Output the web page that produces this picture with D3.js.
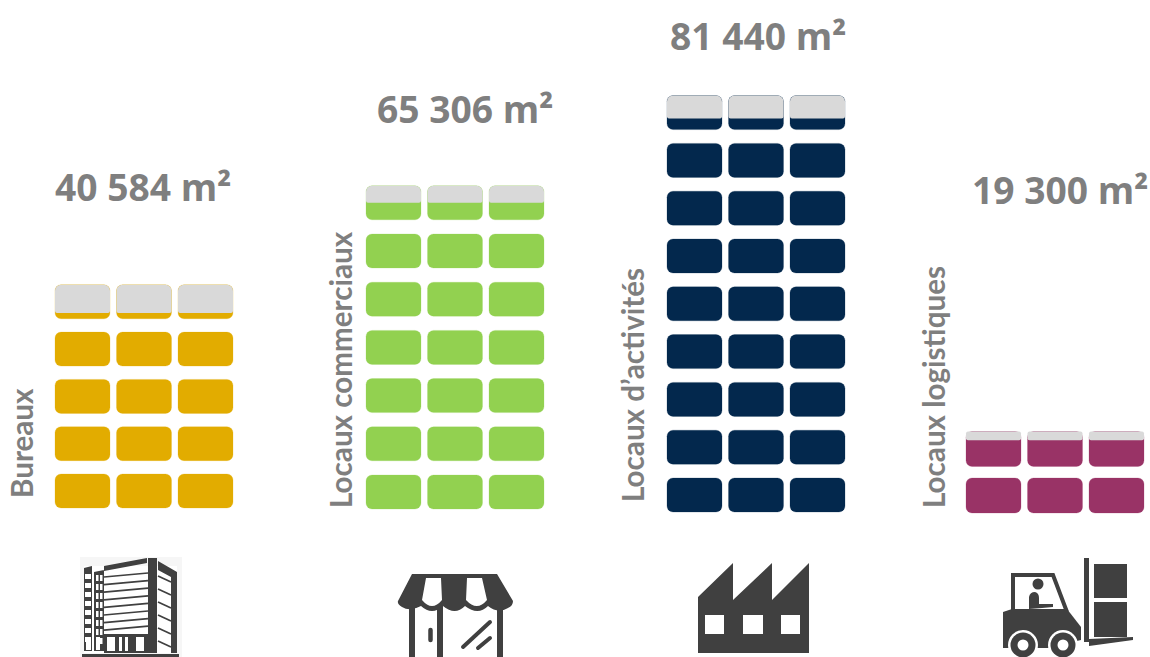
<!DOCTYPE html>
<html lang="fr">
<head>
<meta charset="utf-8">
<title>Surfaces par type de locaux</title>
<script src="https://cdn.jsdelivr.net/npm/d3@7"></script>
<style>
  html, body { margin: 0; padding: 0; background: #fff; }
  svg { display: block; }
  .value { font-family: "Open Sans", sans-serif; font-weight: 700; font-size: 37.2px; fill: #7f7f7f; }
  .name { font-family: "Lato", sans-serif; font-weight: 700; font-size: 29.6px; fill: #7f7f7f; }
</style>
</head>
<body>
<svg id="chart" width="1150" height="657" viewBox="0 0 1150 657"></svg>
<script>
// Surface per property type, one stack of block rows per type
const categories = ["Bureaux", "Locaux commerciaux", "Locaux d’activités", "Locaux logistiques"];
const surfaces = [40584, 65306, 81440, 19300];
const valueLabels = ["40 584 m²", "65 306 m²", "81 440 m²", "19 300 m²"];
const topRowShare = [0.17, 0.5, 0.33, 0.75];
const colours = ["#e2ac00", "#92d150", "#03284d", "#993366"];

const m2PerRow = 10000;
const blocksPerRow = 3;

// Stack placement on the page
const stackLeft = [55, 366, 667, 966];
const stackFloor = [508, 509, 512, 513];
const rowPitch = [47.3, 48.2, 47.8, 46.5];
const labelX = [55, 377, 670, 972];
const labelBaseline = [201, 123, 50, 204];
const nameX = [33, 352, 644, 945];
const nameFoot = [498, 508, 502, 508];

const blockW = 55, blockH = [34, 34, 34, 35], colPitch = 61.5, corner = 6;
const grey = "#d9d9d9", iconInk = "#3f3f3f";

const svg = d3.select("#chart");
const defs = svg.append("defs");
defs.append("filter").attr("id", "soft").append("feGaussianBlur").attr("stdDeviation", 0.45);

// Rounded rectangle whose top and bottom corner radii can differ
function coverPath(x, y, w, h, rt, rb) {
  const p = d3.path();
  p.moveTo(x + rt, y);
  p.lineTo(x + w - rt, y);
  p.arcTo(x + w, y, x + w, y + rt, rt);
  p.lineTo(x + w, y + h - rb);
  p.arcTo(x + w, y + h, x + w - rb, y + h, rb);
  p.lineTo(x + rb, y + h);
  p.arcTo(x, y + h, x, y + h - rb, rb);
  p.lineTo(x, y + rt);
  p.arcTo(x, y, x + rt, y, rt);
  p.closePath();
  return p.toString();
}

categories.forEach((name, i) => {
  const rows = Math.ceil(surfaces[i] / m2PerRow);
  const h = blockH[i];
  const x = d3.scaleLinear().domain([0, 1]).range([stackLeft[i], stackLeft[i] + colPitch]);
  const y = d3.scaleLinear().domain([0, 1]).range([stackFloor[i], stackFloor[i] - rowPitch[i]]);
  const cells = d3.range(rows).flatMap(r => d3.range(blocksPerRow).map(c => ({ r, c })));
  const g = svg.append("g").attr("class", "stack");

  g.selectAll("rect.block").data(cells).join("rect")
    .attr("class", "block")
    .attr("x", d => x(d.c))
    .attr("y", d => y(d.r) - h)
    .attr("width", blockW)
    .attr("height", h)
    .attr("rx", corner)
    .attr("fill", colours[i])
    .attr("stroke", colours[i])
    .attr("stroke-opacity", 0.22)
    .attr("stroke-width", 1);

  // Grey cover hides the unused share of the top row
  const hidden = (1 - topRowShare[i]) * h;
  g.selectAll("path.cover").data(d3.range(blocksPerRow)).join("path")
    .attr("class", "cover")
    .attr("d", c => coverPath(x(c), y(rows - 1) - h, blockW, hidden, i === 3 ? 2 : corner, 2))
    .attr("fill", grey);

  svg.append("text").attr("class", "value")
    .attr("x", labelX[i]).attr("y", labelBaseline[i])
    .text(valueLabels[i]);

  svg.append("text").attr("class", "name")
    .attr("transform", `translate(${nameX[i]},${nameFoot[i]}) rotate(-90)`)
    .text(name);
});

// Pictograms along the bottom edge
const icons = svg.append("g").attr("filter", "url(#soft)");

function drawOffice(g) {
  g.append("rect").attr("x", 80).attr("y", 557).attr("width", 102).attr("height", 100).attr("fill", "#f6f6f6");
  g.append("rect").attr("x", 84).attr("y", 566).attr("width", 93).attr("height", 87).attr("fill", "#fff");
  g.append("path").attr("d", "M84,568 L92,566 V651 H84 Z M94,572 L104,570 V651 H94 Z M104,566 L147,558 V563 L104,571 Z M148,558 H157 V653 H148 Z M158,561 L177,572 V653 H171 V577 L158,570 Z M82,654 H179 V657 H82 Z").attr("fill", iconInk);
  for (let k = 0; k < 8; k++) {
    const yy = 577 + k * 7.6;
    g.append("path").attr("d", `M104,${yy} L148,${yy - 4}`).attr("stroke", iconInk).attr("stroke-width", 1.7);
    g.append("rect").attr("x", 85).attr("y", 574 + k * 9).attr("width", 6).attr("height", 5).attr("fill", "#fff");
    g.append("rect").attr("x", 96).attr("y", 575 + k * 9).attr("width", 2.5).attr("height", 6).attr("fill", "#fff");
    g.append("rect").attr("x", 100).attr("y", 575 + k * 9).attr("width", 2.5).attr("height", 6).attr("fill", "#fff");
  }
  for (let k = 0; k < 6; k++) {
    const yy = 576 + k * 13;
    g.append("path").attr("d", `M158,${yy} L171,${yy + 6}`).attr("stroke", iconInk).attr("stroke-width", 1.7);
  }
  // Ground floor and entrance
  g.append("rect").attr("x", 104).attr("y", 634).attr("width", 44).attr("height", 19).attr("fill", iconInk);
  [[107, 8], [119, 3], [125, 3], [136, 8]].forEach(([wx, ww]) => {
    g.append("rect").attr("x", wx).attr("y", 637).attr("width", ww).attr("height", 14).attr("fill", "#fff");
  });
  g.append("path").attr("d", "M86,637 H91 V650 H86 Z M96,637 H100 V650 H96 Z").attr("fill", "#fff");
}

function drawShop(g) {
  g.append("path").attr("d", "M412,574 H497 L513,601 Q513,606 508,608 Q498,614 488,606 Q478,616 465,606 Q455,616 443,606 Q432,616 421,606 Q410,612 402,607 Q397,604 398,601 Z").attr("fill", iconInk);
  g.append("path").attr("d", "M426,578 H441 L442,600 Q432,612 422,600 Z M467,578 H482 L487,600 Q477,612 466,600 Z").attr("fill", "#fff");
  g.append("path").attr("d", "M409,607 H415 V657 H409 Z M437,605 H443 V657 H437 Z M497,607 H503 V657 H497 Z").attr("fill", iconInk);
  g.append("path").attr("d", "M430.5,630 V640").attr("stroke", iconInk).attr("stroke-width", 4.5).attr("stroke-linecap", "round");
  g.append("path").attr("d", "M463,647 L490,622 M478,648 L490,638").attr("stroke", iconInk).attr("stroke-width", 4).attr("stroke-linecap", "round");
}

function drawFactory(g) {
  g.append("path").attr("fill-rule", "evenodd").attr("fill", iconInk)
    .attr("d", "M698,653 V597 L733,563 V600 L772,563 V600 L809,563 V653 Z M705,615 V634 H724 V615 Z M743,615 V634 H763 V615 Z M781,615 V634 H800 V615 Z");
}

function drawForklift(g) {
  g.append("path").attr("d", "M1084,558 H1089 V642 H1084 Z M1094,564 H1127 V598 H1094 Z M1094,602 H1127 V637 H1094 Z M1089,639 L1133,637 V640 L1089,646 Z").attr("fill", iconInk);
  g.append("path").attr("d", "M1013,611 V575 H1053 L1067,612").attr("fill", "none").attr("stroke", iconInk).attr("stroke-width", 4);
  g.append("path").attr("d", "M1003,612 L1012,609 H1067 L1081,627 V640 L1048,648 H1003 Z").attr("fill", iconInk);
  g.append("circle").attr("cx", 1038).attr("cy", 584).attr("r", 5.5).attr("fill", iconInk);
  g.append("path").attr("d", "M1029,609 V597 Q1030,592 1035,592 Q1039,593 1039,598 V604 L1053,604 V607 L1042,608 Z").attr("fill", iconInk);
  [1023, 1063].forEach(cx => {
    g.append("circle").attr("cx", cx).attr("cy", 645).attr("r", 15).attr("fill", "#fff");
    g.append("circle").attr("cx", cx).attr("cy", 645).attr("r", 12.5).attr("fill", iconInk);
    g.append("circle").attr("cx", cx).attr("cy", 645).attr("r", 5.5).attr("fill", "#fff");
  });
}

drawOffice(icons.append("g"));
drawShop(icons.append("g"));
drawFactory(icons.append("g"));
drawForklift(icons.append("g"));
</script>
</body>
</html>
